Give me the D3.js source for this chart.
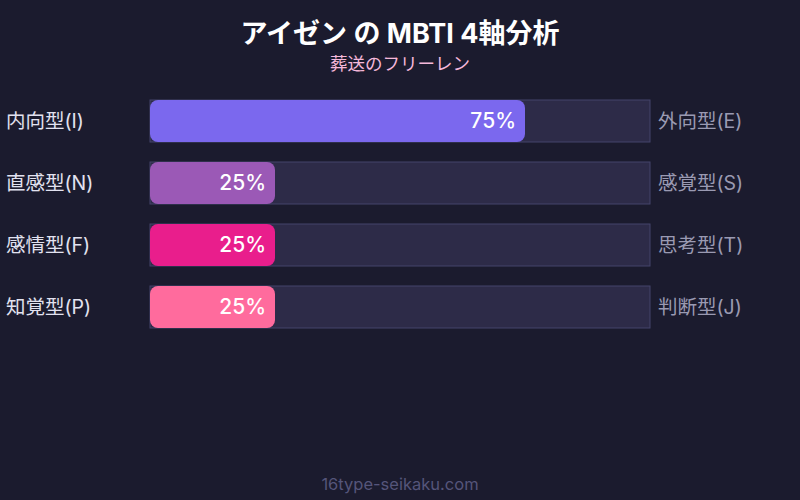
<!DOCTYPE html>
<html lang="ja">
<head>
<meta charset="UTF-8">
<script src="https://d3js.org/d3.v7.min.js"></script>
<title>MBTI 4軸分析</title>
<style>
  body { margin: 0; background: #1b1b2e; }
  svg { display: block; font-family: Inter, "Noto Sans CJK JP", sans-serif; }
</style>
</head>
<body>
<div id="canvas"></div>
<script>
const leftLabels = ["内向型(I)", "直感型(N)", "感情型(F)", "知覚型(P)"]
const rightLabels = ["外向型(E)", "感覚型(S)", "思考型(T)", "判断型(J)"]
const values = [75, 25, 25, 25]
const colors = ["#7b68ee", "#9b59b6", "#e91e8c", "#ff6b9d"]

const width = 800, height = 500
const svg = d3.select("#canvas").append("svg").attr("width", width).attr("height", height)

svg.append("rect").attr("width", width).attr("height", height).attr("fill", "#1b1b2e")

svg.append("text").attr("x", 400).attr("y", 43).attr("text-anchor", "middle")
   .attr("fill", "#ffffff").attr("font-size", 27).attr("font-weight", 700)
   .text("アイゼン の MBTI 4軸分析")
svg.append("text").attr("x", 400).attr("y", 70).attr("text-anchor", "middle")
   .attr("fill", "#f5b8da").attr("font-size", 17.5)
   .text("葬送のフリーレン")

const x = d3.scaleLinear().domain([0, 100]).range([150, 650])
const y = d3.scaleBand().domain(d3.range(values.length)).range([100, 328]).paddingInner(20 / 62).paddingOuter(0)

const rows = svg.selectAll(".row").data(values).enter().append("g").attr("class", "row")

rows.append("rect")
    .attr("x", x(0)).attr("y", (d, i) => y(i))
    .attr("width", x(100) - x(0)).attr("height", y.bandwidth())
    .attr("fill", "#2d2b48").attr("stroke", "#45446a").attr("stroke-width", 1)

rows.append("rect")
    .attr("x", x(0)).attr("y", (d, i) => y(i))
    .attr("width", d => x(d) - x(0)).attr("height", y.bandwidth())
    .attr("rx", 8).attr("fill", (d, i) => colors[i])

rows.append("text")
    .attr("x", d => x(d) - 9).attr("y", (d, i) => y(i) + y.bandwidth() / 2)
    .attr("dy", "0.35em").attr("text-anchor", "end")
    .attr("fill", "#ffffff").attr("font-size", 21).attr("font-weight", 500)
    .text(d => d + "%")

rows.append("text")
    .attr("x", 6).attr("y", (d, i) => y(i) + y.bandwidth() / 2)
    .attr("dy", "0.35em").attr("fill", "#e2e2f0").attr("font-size", 19.5)
    .text((d, i) => leftLabels[i])

rows.append("text")
    .attr("x", 658).attr("y", (d, i) => y(i) + y.bandwidth() / 2)
    .attr("dy", "0.35em").attr("fill", "#9a9ab2").attr("font-size", 19.5)
    .text((d, i) => rightLabels[i])

svg.append("text").attr("x", 400).attr("y", 490).attr("text-anchor", "middle")
   .attr("fill", "#55557a").attr("font-size", 16.5)
   .text("16type-seikaku.com")
</script>
</body>
</html>
